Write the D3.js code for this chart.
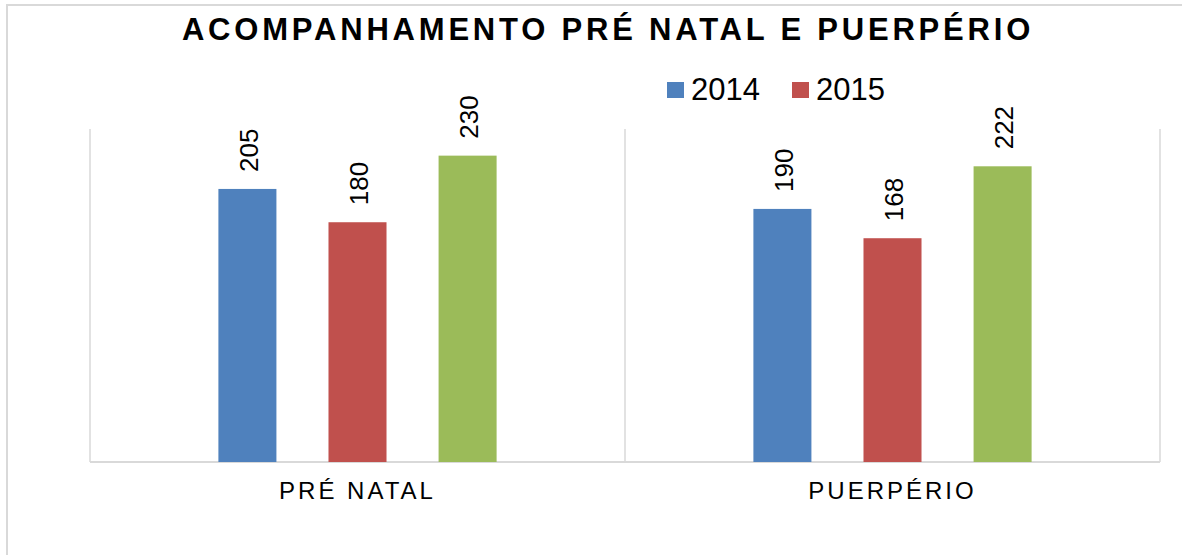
<!DOCTYPE html>
<html>
<head>
<meta charset="utf-8">
<style>
  body { margin: 0; background: #fff; }
  text { font-family: "Liberation Sans", Arial, sans-serif; }
</style>
<script src="https://d3js.org/d3.v7.min.js"></script>
</head>
<body>
<div id="chart"></div>
<script>
// data
var categories = ["PRÉ NATAL", "PUERPÉRIO"];
var series = ["2014", "2015", "2016"];
var values2014 = [205, 190];
var values2015 = [180, 168];
var values2016 = [230, 222];
var legendKeys = ["2014", "2015"];   // only these two show in the legend
var colors = ["#4f81bd", "#c0504d", "#9bbb59"];

var allValues = [values2014, values2015, values2016];

var W = 1182, H = 555;
var margin = {top: 129, right: 22, bottom: 93, left: 90};
var width = 1160 - margin.left,
    height = 462 - margin.top;

var svg = d3.select("#chart").append("svg")
    .attr("width", W)
    .attr("height", H);

// outer chart border
svg.append("rect")
    .attr("x", 7).attr("y", 5)
    .attr("width", 1202).attr("height", 620)
    .attr("fill", "none")
    .attr("stroke", "#d9d9d9")
    .attr("stroke-width", 2);

// title
svg.append("text")
    .attr("x", 608)
    .attr("y", 40)
    .attr("text-anchor", "middle")
    .style("font-size", "31px")
    .style("font-weight", "bold")
    .style("letter-spacing", "3.8px")
    .text("ACOMPANHAMENTO PRÉ NATAL E PUERPÉRIO");

var g = svg.append("g")
    .attr("transform", "translate(" + margin.left + "," + margin.top + ")");

var x0 = d3.scaleBand().domain(categories).range([0, width]).padding(0);
var x1 = d3.scaleBand().domain(series)
    .range([x0.bandwidth() * 0.24, x0.bandwidth() * 0.76])
    .paddingInner(0.473);
var y = d3.scaleLinear().domain([0, 250]).range([height, 0]);

// vertical separators
var seps = [0].concat(categories.map(function(c) { return x0(c) + x0.bandwidth(); }));
g.selectAll(".sep")
  .data(seps)
  .enter().append("line")
    .attr("x1", function(d) { return d; })
    .attr("x2", function(d) { return d; })
    .attr("y1", 0)
    .attr("y2", height)
    .attr("stroke", "#d9d9d9")
    .attr("stroke-width", 1.5);

// baseline
g.append("line")
    .attr("x1", 0).attr("x2", width)
    .attr("y1", height).attr("y2", height)
    .attr("stroke", "#d9d9d9")
    .attr("stroke-width", 2);

// bars
var rows = [];
categories.forEach(function(c, i) {
  series.forEach(function(s, j) {
    rows.push({cat: c, key: s, value: allValues[j][i], color: colors[j]});
  });
});

g.selectAll(".bar")
  .data(rows)
  .enter().append("rect")
    .attr("x", function(d) { return x0(d.cat) + x1(d.key); })
    .attr("y", function(d) { return y(d.value); })
    .attr("width", x1.bandwidth())
    .attr("height", function(d) { return height - y(d.value); })
    .attr("fill", function(d) { return d.color; });

// value labels, rotated
g.selectAll(".lbl")
  .data(rows)
  .enter().append("text")
    .attr("transform", function(d) {
      var cx = x0(d.cat) + x1(d.key) + x1.bandwidth() / 2;
      return "translate(" + cx + "," + (y(d.value) - 17) + ")rotate(-90)";
    })
    .attr("dy", "0.4em")
    .attr("text-anchor", "start")
    .style("font-size", "26px")
    .text(function(d) { return d.value; });

// category labels
g.selectAll(".cat")
  .data(categories)
  .enter().append("text")
    .attr("x", function(d) { return x0(d) + x0.bandwidth() / 2; })
    .attr("y", height + 37)
    .attr("text-anchor", "middle")
    .style("font-size", "24px")
    .style("letter-spacing", "3px")
    .text(function(d) { return d; });

// legend
var legend = svg.append("g").attr("transform", "translate(667,82)");
var lx = [0, 125];
legendKeys.forEach(function(k, i) {
  var item = legend.append("g").attr("transform", "translate(" + lx[i] + ",0)");
  item.append("rect")
    .attr("width", 17).attr("height", 16)
    .attr("fill", colors[series.indexOf(k)]);
  item.append("text")
    .attr("x", 24).attr("y", 18)
    .style("font-size", "31px")
    .text(k);
});
</script>
</body>
</html>
